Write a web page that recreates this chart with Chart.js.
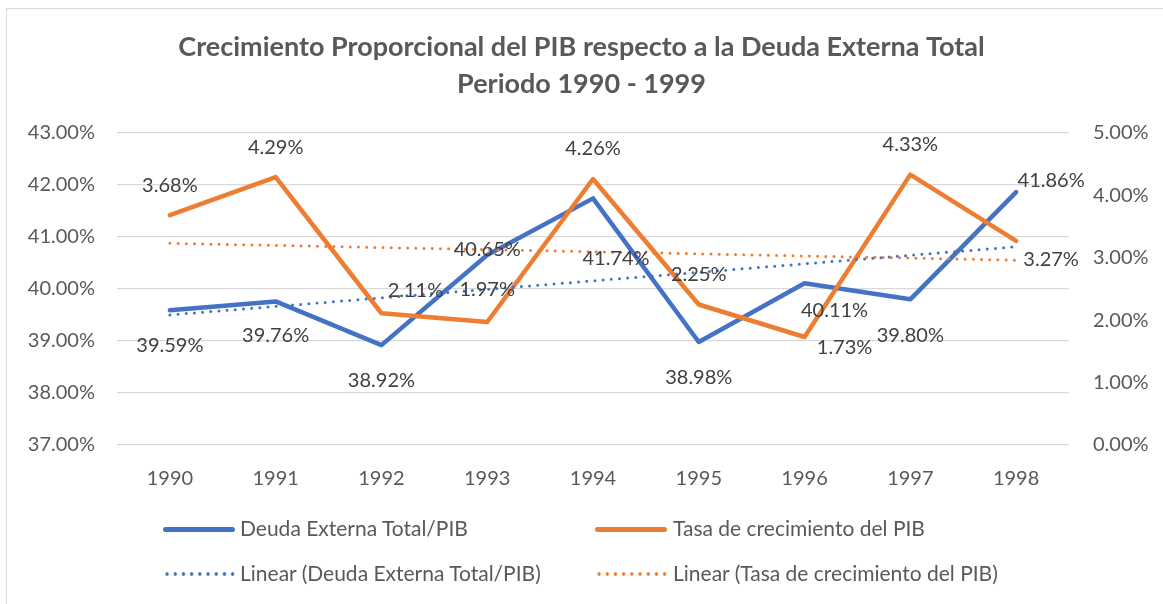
<!DOCTYPE html>
<html>
<head>
<meta charset="utf-8">
<script src="https://cdn.jsdelivr.net/npm/chart.js@4"></script>
<style>
  html, body { margin: 0; padding: 0; background: #fff; }
  #wrap { position: relative; width: 1163px; height: 604px; overflow: hidden; }
  #frame { position: absolute; left: 6px; top: 8px; width: 1200px; height: 700px; border: 1px solid #d9d9d9; }
  canvas { position: absolute; left: 0; top: 0; }
  .leg { position: absolute; font-family: Lato, sans-serif; font-size: 21px; color: #595959; white-space: nowrap; }
  .solid { position: absolute; height: 5px; border-radius: 3px; width: 72px; }
  .dots { position: absolute; height: 4px; width: 72px; background-size: 8.2px 4px; }
</style>
</head>
<body>
<div id="wrap">
  <div id="frame"></div>
  <canvas id="pibChart" width="1163" height="604"></canvas>
  <div class="solid" style="left:163px; top:527px; background:#4472c4;"></div>
  <div class="leg" style="left:240px; top:515px;">Deuda Externa Total/PIB</div>
  <div class="solid" style="left:595px; top:527px; background:#ed7d31;"></div>
  <div class="leg" style="left:673px; top:515px;">Tasa de crecimiento del PIB</div>
  <div class="dots" style="left:163px; top:572px; background-image:radial-gradient(circle, #4472c4 1.5px, transparent 2px);"></div>
  <div class="leg" style="left:240px; top:560px;">Linear (Deuda Externa Total/PIB)</div>
  <div class="dots" style="left:595px; top:572px; background-image:radial-gradient(circle, #ed7d31 1.5px, transparent 2px);"></div>
  <div class="leg" style="left:673px; top:560px;">Linear (Tasa de crecimiento del PIB)</div>
</div>
<script>
const years = ["1990", "1991", "1992", "1993", "1994", "1995", "1996", "1997", "1998"];
const deudaPib = [39.59, 39.76, 38.92, 40.65, 41.74, 38.98, 40.11, 39.80, 41.86];
const tasaPib = [3.68, 4.29, 2.11, 1.97, 4.26, 2.25, 1.73, 4.33, 3.27];
// trend line end points (1990 and 1998)
const trendDeuda = [39.50, 40.81];
const trendTasa = [3.23, 2.96];

// hand placed label offsets (px) like in the original
const deudaLabelPos = [[0, 35], [0, 34], [0, 35], [0, -6], [23, 60], [0, 36], [30, 27], [0, 36], [35, -12]];
const tasaLabelPos = [[0, -30], [0, -30], [34, -23], [0, -32], [0, -30], [0, -30], [40, 11], [0, -30], [35, 19]];

const blue = "#4472c4";
const orange = "#ed7d31";
const textGrey = "#595959";

const pctTick = (v) => v.toFixed(2) + "%";

const pointLabels = {
  id: "pointLabels",
  afterDatasetsDraw(chart) {
    const c = chart.ctx;
    c.save();
    c.font = "20px Lato";
    c.fillStyle = "#404040";
    c.textAlign = "center";
    c.textBaseline = "middle";
    [[0, deudaPib, deudaLabelPos], [1, tasaPib, tasaLabelPos]].forEach(([idx, vals, pos]) => {
      chart.getDatasetMeta(idx).data.forEach((pt, i) => {
        c.fillText(vals[i].toFixed(2) + "%", pt.x + pos[i][0], pt.y + pos[i][1]);
      });
    });
    c.restore();
  },
};

const ctx = document.getElementById("pibChart").getContext("2d");
new Chart(ctx, {
  type: "line",
  data: {
    labels: years,
    datasets: [
      {
        label: "Deuda Externa Total/PIB",
        data: deudaPib,
        borderColor: blue,
        borderWidth: 4.5,
        yAxisID: "y",
        order: 2,
      },
      {
        label: "Tasa de crecimiento del PIB",
        data: tasaPib,
        borderColor: orange,
        borderWidth: 4.5,
        yAxisID: "y1",
        order: 1,
      },
      {
        label: "Linear (Deuda Externa Total/PIB)",
        data: [
          { x: years[0], y: trendDeuda[0] },
          { x: years[years.length - 1], y: trendDeuda[1] },
        ],
        borderColor: blue,
        borderWidth: 3,
        borderDash: [0, 8.2],
        borderCapStyle: "round",
        yAxisID: "y",
        order: 0,
      },
      {
        label: "Linear (Tasa de crecimiento del PIB)",
        data: [
          { x: years[0], y: trendTasa[0] },
          { x: years[years.length - 1], y: trendTasa[1] },
        ],
        borderColor: orange,
        borderWidth: 3,
        borderDash: [0, 8.2],
        borderCapStyle: "round",
        yAxisID: "y1",
        order: 0,
      },
    ],
  },
  options: {
    responsive: false,
    animation: false,
    events: [],
    elements: {
      point: { radius: 0 },
      line: { tension: 0, borderJoinStyle: "round", borderCapStyle: "round" },
    },
    layout: { padding: { left: 0, right: 0, top: 0, bottom: 109 } },
    plugins: {
      legend: { display: false },
      tooltip: { enabled: false },
      title: {
        display: true,
        text: ["Crecimiento Proporcional del PIB respecto a la Deuda Externa Total", "Periodo 1990 - 1999"],
        color: textGrey,
        font: { family: "Lato", size: 27, weight: "bold", lineHeight: 1.4 },
        padding: { top: 28, bottom: 29.2 },
      },
    },
    scales: {
      x: {
        offset: true,
        grid: { display: false },
        border: { display: false },
        ticks: { color: textGrey, font: { family: "Lato", size: 20 }, padding: 14, maxRotation: 0 },
        afterFit: (s) => { s.height = 50; },
      },
      y: {
        position: "left",
        min: 37,
        max: 43,
        grid: { color: "#d9d9d9", lineWidth: 1.3, drawTicks: false },
        border: { display: false },
        ticks: { stepSize: 1, callback: pctTick, color: textGrey, font: { family: "Lato", size: 20 }, padding: 22 },
        afterFit: (s) => { s.width = 117; },
      },
      y1: {
        position: "right",
        min: 0,
        max: 5,
        grid: { display: false, drawTicks: false },
        border: { display: false },
        ticks: { stepSize: 1, callback: pctTick, color: textGrey, font: { family: "Lato", size: 20 }, padding: 24 },
        afterFit: (s) => { s.width = 94; },
      },
    },
  },
  plugins: [pointLabels],
});
</script>
</body>
</html>
